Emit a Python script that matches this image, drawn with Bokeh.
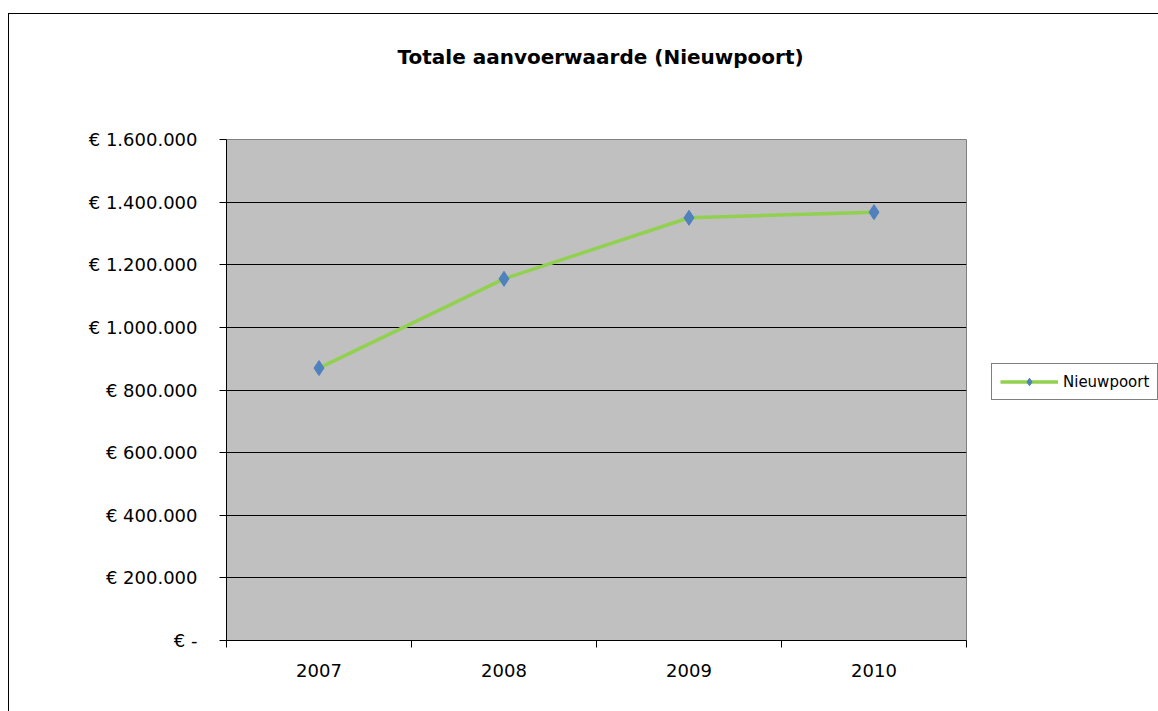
from bokeh.plotting import figure
from bokeh.layouts import row
from bokeh.models import (FactorRange, Range1d, LinearAxis, CategoricalAxis, FixedTicker,
                          CustomJSTickFormatter, Legend, LegendItem, Title)
from bokeh.embed import file_html
from bokeh.resources import INLINE

# ---- data ----
years = ["2007", "2008", "2009", "2010"]
values = [870000, 1155000, 1350000, 1368000]
y_ticks = [0, 200000, 400000, 600000, 800000, 1000000, 1200000, 1400000, 1600000]
title_text = "Totale aanvoerwaarde (Nieuwpoort)"
series_name = "Nieuwpoort"

FONT = "DejaVu Sans"
LINE_COLOR = "#92D050"
MARKER_COLOR = "#4F81BD"

p = figure(width=971, height=697, output_backend="svg", toolbar_location=None,
           x_range=FactorRange(*years, range_padding=0), y_range=Range1d(0, y_ticks[-1]),
           min_border_left=217, min_border_right=14, min_border_top=125, min_border_bottom=71,
           background_fill_color="#C0C0C0", border_fill_color="white",
           outline_line_color="#808080", outline_line_width=1,
           x_axis_location=None, y_axis_location=None)

# title: spacer slot next to the frame, then the real title above it
spacer = Title(text=" ", text_font_size="1px", standoff=68)
p.add_layout(spacer, "above")
title = Title(text=title_text, align="left", offset=171, standoff=0, vertical_align="bottom",
              text_font=FONT, text_font_size="20px", text_font_style="bold", text_color="black")
p.add_layout(title, "above")

# y axis
yax = LinearAxis(ticker=FixedTicker(ticks=y_ticks),
                 formatter=CustomJSTickFormatter(code="""
                    if (tick == 0) { return "€ -"; }
                    const s = Math.round(tick).toString().replace(/\\B(?=(\\d{3})+(?!\\d))/g, ".");
                    return "€ " + s;
                 """),
                 major_tick_out=7, major_tick_in=0, minor_tick_line_color=None,
                 axis_line_color="black", major_tick_line_color="black",
                 major_label_text_font=FONT, major_label_text_font_size="18px",
                 major_label_text_color="black", major_label_standoff=22)
p.add_layout(yax, "left")

# x axis: boundary ticks between categories + category labels
xtick_ax = LinearAxis(ticker=FixedTicker(ticks=list(range(len(years) + 1))),
                      formatter=CustomJSTickFormatter(code='return "";'),
                      major_tick_out=7, major_tick_in=0, minor_tick_line_color=None,
                      axis_line_color="black", major_tick_line_color="black",
                      major_label_text_font_size="1px", major_label_standoff=0)
p.add_layout(xtick_ax, "below")
xlab_ax = CategoricalAxis(major_tick_line_color=None, axis_line_color=None,
                          major_label_text_font=FONT, major_label_text_font_size="18px",
                          major_label_text_color="black", major_label_standoff=10)
p.add_layout(xlab_ax, "below")

# grid (interior gridlines only)
p.ygrid.ticker = FixedTicker(ticks=y_ticks[1:-1])
p.ygrid.grid_line_color = "black"
p.ygrid.grid_line_width = 1
p.xgrid.grid_line_color = None

p.line(years, values, line_color=LINE_COLOR, line_width=3.5)
p.scatter(years, values, marker="diamond", size=15, fill_color=MARKER_COLOR, line_color=MARKER_COLOR)

# legend panel (separate small canvas to the right of the chart; its series lie
# outside its own y range, so only the legend swatch is visible)
lf = figure(width=178, height=697, output_backend="svg", toolbar_location=None,
            x_range=FactorRange(*years, range_padding=0), y_range=Range1d(-2, -1),
            min_border_left=0, min_border_right=0, min_border_top=0, min_border_bottom=0,
            background_fill_color="white", border_fill_color="white", outline_line_color=None,
            x_axis_location=None, y_axis_location=None)
lf.grid.grid_line_color = None
lg_line = lf.line(years, values, line_color=LINE_COLOR, line_width=3.5)
lg_mark = lf.scatter(years, values, marker="diamond", size=15, fill_color=MARKER_COLOR,
                     line_color=MARKER_COLOR)
legend = Legend(items=[LegendItem(label=series_name, renderers=[lg_line, lg_mark])],
                location=(11, 240), border_line_color="black", border_line_width=1,
                label_text_font=FONT, label_text_font_size="15px", label_text_color="black",
                glyph_width=58, glyph_height=19, label_height=19, padding=8, margin=0,
                label_standoff=5, background_fill_color="white", background_fill_alpha=1)
lf.add_layout(legend, "center")

layout = row(p, lf, spacing=0)
layout.styles = {"margin-left": "8px", "margin-top": "13px",
                 "border-left": "1px solid black", "border-top": "1px solid black"}

open("out.html", "w").write(file_html(layout, INLINE))
